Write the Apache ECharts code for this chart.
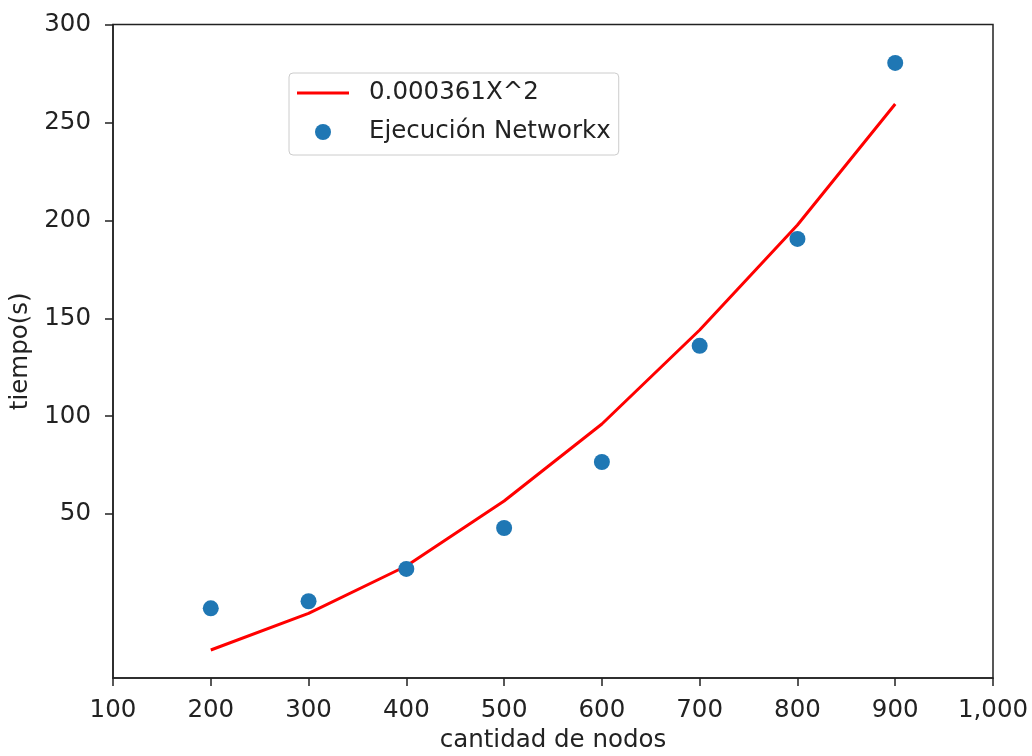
<!DOCTYPE html>
<html>
<head>
<meta charset="utf-8">
<script src="https://cdn.jsdelivr.net/npm/echarts@6/dist/echarts.min.js"></script>
<style>html,body{margin:0;padding:0;background:#fff}#chart{width:1032px;height:756px}</style>
</head>
<body>
<div id="chart"></div>
<script>
// Data
const nodos = [200, 300, 400, 500, 600, 700, 800, 900];
const ajuste = [-19.4, -0.7, 23.5, 56.7, 96, 144, 197.6, 259.4];   // 0.000361X^2 curve
const ejecucion = [1.9, 5.5, 22, 42.9, 76.6, 135.9, 190.5, 280.4];  // Ejecución Networkx
const yTicks = [50, 100, 150, 200, 250, 300];
const lineName = '0.000361X^2';
const scatterName = 'Ejecución Networkx';

const font = 'DejaVu Sans';
const fs = 24.5;
const txt = '#222';
const chart = echarts.init(document.getElementById('chart'), null, {renderer: 'canvas'});
chart.setOption({
  animation: false,
  backgroundColor: '#fff',
  textStyle: {fontFamily: font},
  grid: {left: 113, right: 39, top: 24.5, bottom: 78, outerBoundsMode: 'none', containLabel: false,
         show: true, borderColor: '#222', borderWidth: 1.5, backgroundColor: 'transparent'},
  legend: {
    orient: 'vertical', left: 289, top: 73,
    data: [
      {name: lineName, icon: 'path://M0,0M52,16M0,6.5L52,6.5L52,9.5L0,9.5Z'},
      {name: scatterName, icon: 'circle'}
    ],
    itemWidth: 52, itemHeight: 16, itemGap: 13,
    padding: [7, 8, 10, 8],
    borderColor: '#cccccc', borderWidth: 1, borderRadius: 4,
    backgroundColor: 'rgba(255,255,255,0.8)',
    textStyle: {fontFamily: font, fontSize: fs, color: txt, lineHeight: 26, padding: [0, 0, 0, 15]}
  },
  xAxis: {
    type: 'value', min: 100, max: 1000, interval: 100,
    name: 'cantidad de nodos', nameLocation: 'middle', nameGap: 50,
    nameTextStyle: {fontFamily: font, fontSize: fs, color: txt},
    axisLine: {show: true, onZero: false, lineStyle: {color: '#222', width: 1.5}},
    axisTick: {show: true, length: 8, lineStyle: {color: '#222', width: 1.5}},
    axisLabel: {fontFamily: font, fontSize: fs, color: txt, margin: 20},
    splitLine: {show: false}
  },
  yAxis: {
    type: 'value', min: -33.7, max: 300,
    name: 'tiempo(s)', nameLocation: 'middle', nameGap: 74,
    nameTextStyle: {fontFamily: font, fontSize: fs, color: txt},
    axisLine: {show: true, onZero: false, lineStyle: {color: '#222', width: 1.5}},
    axisTick: {show: true, length: 8, customValues: yTicks, lineStyle: {color: '#222', width: 1.5}},
    axisLabel: {fontFamily: font, fontSize: fs, color: txt, margin: 22, customValues: yTicks},
    splitLine: {show: false}
  },
  series: [
    {
      name: lineName, type: 'line', symbol: 'none',
      data: nodos.map((x, i) => [x, ajuste[i]]),
      lineStyle: {color: '#ff0000', width: 3}, itemStyle: {color: '#ff0000'}, z: 2
    },
    {
      name: scatterName, type: 'scatter', symbol: 'circle', symbolSize: 16,
      data: nodos.map((x, i) => [x, ejecucion[i]]),
      itemStyle: {color: '#1f77b4', opacity: 1}, z: 3
    }
  ]
});
</script>
</body>
</html>
